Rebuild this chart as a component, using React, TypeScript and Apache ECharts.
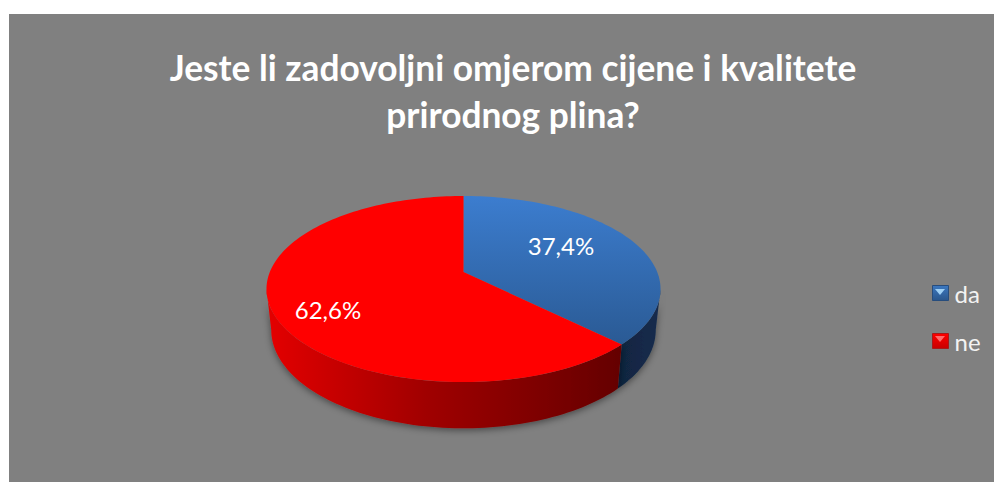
import React, { useEffect, useRef } from "react";
import * as echarts from "echarts";

const titleLines = ["Jeste li zadovoljni omjerom cijene i kvalitete", "prirodnog plina?"];
const categories = ["da", "ne"];
const values = [37.4, 62.6];
const labelSpots = [[561, 245], [328, 309]];
const FONT = "Lato, Carlito, 'Open Sans', sans-serif";

// projected disc
const CX = 463.5, K = 0.183;
const TOP = { x0: 272, rx: 193.7, ry: 89.9 };
const BOT = { x0: 312, rx: 189, ry: 95 };
const LEFT_EXTREME = (Math.acos(-K) * 180) / Math.PI; // visible side limit

function project(deg: number, d: { x0: number; rx: number; ry: number }) {
  const t = (deg * Math.PI) / 180;
  const u = Math.sin(t), v = -Math.cos(t), w = 1 - K * v;
  return [CX + (d.rx * u) / w, d.x0 + (d.ry * v) / w];
}
function arc(a: number, b: number, d: any) {
  const out: number[][] = [];
  const n = Math.max(2, Math.ceil(Math.abs(b - a) / 1.5));
  for (let i = 0; i <= n; i++) out.push(project(a + ((b - a) * i) / n, d));
  return out;
}
const sideFill = [
  new echarts.graphic.LinearGradient(0, 0, 1, 0, [
    { offset: 0, color: "#10243f" },
    { offset: 1, color: "#162c4e" },
  ]),
  new echarts.graphic.LinearGradient(0, 0, 1, 0, [
    { offset: 0, color: "#e40000" },
    { offset: 0.45, color: "#a00000" },
    { offset: 1, color: "#640000" },
  ]),
];
const topFill = [
  new echarts.graphic.LinearGradient(0, 0, 0, 1, [
    { offset: 0, color: "#3c7dcf" },
    { offset: 1, color: "#2a5a94" },
  ]),
  "#ff0000",
];

function sliceItem(index: number) {
  return (_: any, api: any) => {
    const total = values.reduce((a, b) => a + b, 0);
    const before = values.slice(0, index).reduce((a, b) => a + b, 0);
    const start = (before / total) * 360;
    const end = ((before + api.value(0)) / total) * 360;
    const sa = Math.max(start, LEFT_EXTREME);
    const sb = Math.min(end, 360 - LEFT_EXTREME);
    const children: any[] = [];
    if (sb > sa) {
      children.push({
        type: "polygon",
        shape: { points: [...arc(sa, sb, TOP), ...arc(sb, sa, BOT)] },
        style: {
          fill: sideFill[index],
          shadowBlur: 7,
          shadowColor: "rgba(0,0,0,0.45)",
          shadowOffsetY: 2,
        },
      });
    }
    children.push({
      type: "polygon",
      shape: { points: [[CX, TOP.x0], ...arc(start, end, TOP)] },
      style: { fill: topFill[index] },
    });
    children.push({
      type: "text",
      style: {
        x: labelSpots[index][0],
        y: labelSpots[index][1],
        text: api.value(0).toFixed(1).replace(".", ",") + "%",
        fill: "#ffffff",
        font: `400 24px ${FONT}`,
        align: "center",
        verticalAlign: "middle",
      },
    });
    return { type: "group", children };
  };
}

export default function App() {
  const ref = useRef<HTMLDivElement>(null);
  useEffect(() => {
    document.body.style.margin = "0";
    const chart = echarts.init(ref.current!, undefined, { renderer: "svg" });
    const legendColors = [
      new echarts.graphic.LinearGradient(0, 0, 0, 1, [
        { offset: 0, color: "#3c78c0" },
        { offset: 1, color: "#2a568c" },
      ]),
      new echarts.graphic.LinearGradient(0, 0, 0, 1, [
        { offset: 0, color: "#ff0000" },
        { offset: 1, color: "#c80000" },
      ]),
    ];
    chart.setOption({
      animation: false,
      backgroundColor: "#ffffff",
      title: {
        text: titleLines.join("\n"),
        left: 508,
        top: 39,
        textAlign: "center",
        textStyle: {
          color: "#ffffff",
          fontFamily: FONT,
          fontWeight: 700,
          fontSize: 35.3,
          lineHeight: 47,
        },
      },
      legend: {
        orient: "vertical",
        left: 932,
        top: 279,
        padding: 0,
        itemWidth: 16,
        itemHeight: 15,
        itemGap: 20,
        data: categories.map((name, i) => ({
          name,
          icon: "rect",
          itemStyle: { color: legendColors[i], borderColor: i ? "#a81a1a" : "#274d7d", borderWidth: 1 },
        })),
        textStyle: { color: "#f2f2f2", fontFamily: FONT, fontSize: 24, padding: [0, 0, 4, 1], lineHeight: 24 },
      },
      graphic: [
        { type: "rect", z: -10, shape: { x: 9, y: 14, width: 985, height: 468 }, style: { fill: "#808080" } },
        { type: "polygon", z: 100, shape: { points: [[935, 289], [945, 289], [940, 295]] }, style: { fill: "#9fd0f5" } },
        { type: "polygon", z: 100, shape: { points: [[935, 336], [945, 336], [940, 342]] }, style: { fill: "#ff6a6a" } },
      ],
      series: categories.map((name, i) => ({
        type: "custom",
        name,
        coordinateSystem: "none",
        data: [[values[i]]],
        itemStyle: { color: i ? "#ff0000" : "#3a74bd" },
        renderItem: sliceItem(i),
        silent: true,
      })),
    });
    return () => chart.dispose();
  }, []);
  return <div ref={ref} style={{ position: "absolute", left: 0, top: 0, width: 994, height: 482 }} />;
}
